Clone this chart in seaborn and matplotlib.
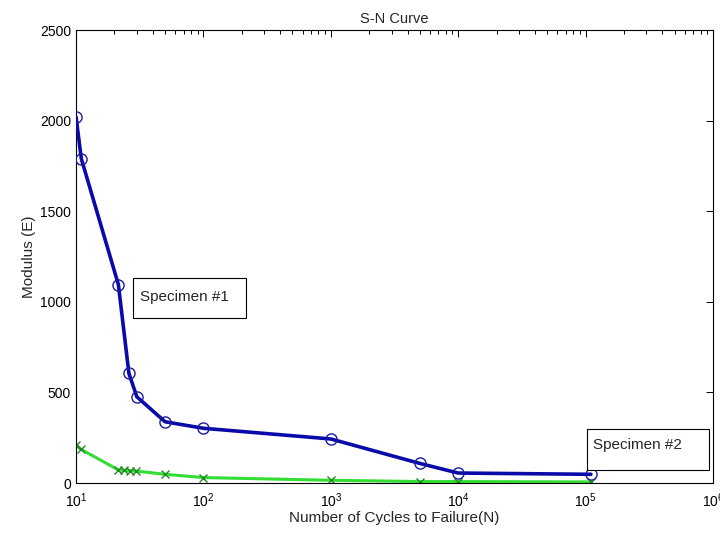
import matplotlib
matplotlib.use("Agg")
import matplotlib.pyplot as plt
import seaborn as sns
import pandas as pd
from matplotlib.patches import Rectangle
from matplotlib.ticker import LogLocator

# Data
spec1_cycles = [10, 11, 21.5, 26, 30, 50, 100, 1000, 5000, 10000, 110000]
spec1_modulus = [2020, 1790, 1095, 605, 476, 338, 302, 243, 108, 55, 48]

spec2_cycles = [10, 11, 21.5, 24, 26.5, 29.5, 50, 100, 1000, 5000, 10000, 110000]
spec2_modulus = [208, 185, 72, 70, 68, 66, 48, 30, 15, 8, 8, 6]

title = "S-N Curve"
xlabel = "Number of Cycles to Failure(N)"
ylabel = "Modulus (E)"
annot1 = "Specimen #1"
annot2 = "Specimen #2"

sns.set_style("white")
plt.rcParams['font.family'] = ['Liberation Sans', 'DejaVu Sans']

fig = plt.figure(figsize=(7.2, 5.34), dpi=100)
ax = fig.add_axes([0.1056, 0.0955, 0.8847, 0.8483])

df1 = pd.DataFrame({"N": spec1_cycles, "E": spec1_modulus})
df2 = pd.DataFrame({"N": spec2_cycles, "E": spec2_modulus})

sns.lineplot(data=df2, x="N", y="E", ax=ax, color="#33dd33", linewidth=2.2,
             marker="x", markersize=6, markeredgecolor="#228822",
             markeredgewidth=1.0, sort=False, zorder=2)
sns.lineplot(data=df1, x="N", y="E", ax=ax, color="#0a0aa8", linewidth=2.6,
             marker="o", markersize=8, markerfacecolor="none",
             markeredgecolor="#1a1aa0", markeredgewidth=1.0, sort=False, zorder=3)

ax.set_xscale("log")
ax.set_xlim(10, 1e6)
ax.set_ylim(0, 2500)
ax.set_yticks([0, 500, 1000, 1500, 2000, 2500])
ax.xaxis.set_major_locator(LogLocator(base=10, numticks=10))
ax.xaxis.set_minor_locator(LogLocator(base=10, subs=range(2, 10), numticks=100))

for s in ax.spines.values():
    s.set_color("black")
    s.set_linewidth(0.8)

ax.tick_params(axis="both", which="both", direction="in", top=True, right=True,
               labelsize=10, colors="black")
ax.tick_params(axis="both", which="major", length=5, width=0.7)
ax.tick_params(axis="x", which="minor", length=3, width=0.7)
ax.tick_params(axis="x", which="major", pad=6)

ax.set_title(title, fontsize=10.5, pad=5)
ax.set_xlabel(xlabel, fontsize=11, labelpad=1)
ax.set_ylabel(ylabel, fontsize=11, labelpad=3)

# annotation boxes
ax.add_patch(Rectangle((0.0895, 0.364), 0.1775, 0.0885, transform=ax.transAxes,
                       facecolor="white", edgecolor="black", linewidth=0.8, zorder=4))
ax.text(0.101, 0.410, annot1, transform=ax.transAxes, fontsize=11,
        va="center", ha="left", zorder=5)
ax.add_patch(Rectangle((0.802, 0.0287), 0.1917, 0.0903, transform=ax.transAxes,
                       facecolor="white", edgecolor="black", linewidth=0.8, zorder=4))
ax.text(0.811, 0.084, annot2, transform=ax.transAxes, fontsize=11,
        va="center", ha="left", zorder=5)

fig.savefig("out.png", dpi=100)
